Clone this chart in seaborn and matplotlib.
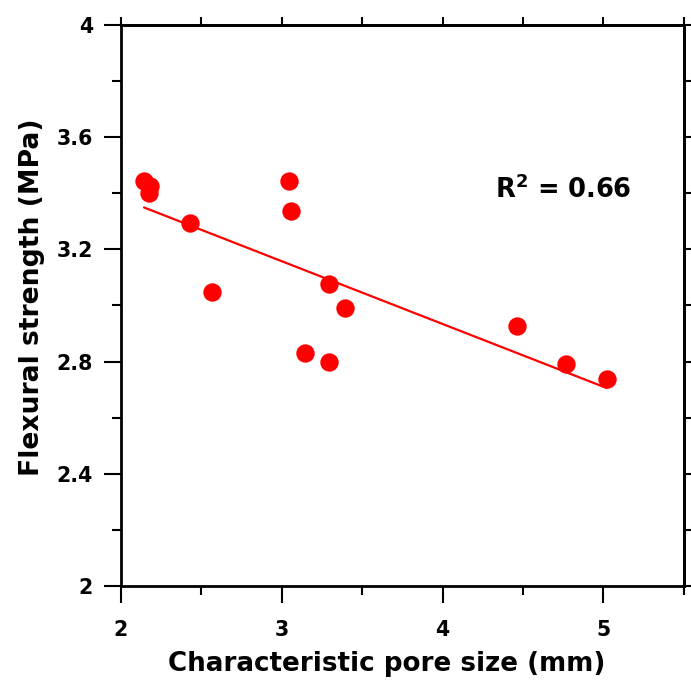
import matplotlib
matplotlib.use("Agg")
import matplotlib.pyplot as plt
import seaborn as sns
import numpy as np
import pandas as pd
from matplotlib.ticker import MultipleLocator

pore_size = [2.145, 2.182, 2.178, 2.433, 2.565, 3.043, 3.056, 3.294, 3.393, 3.145, 3.294, 4.460, 4.768, 5.019]
strength = [3.445, 3.426, 3.400, 3.295, 3.047, 3.445, 3.337, 3.077, 2.990, 2.829, 2.798, 2.928, 2.790, 2.738]
r2_text = "R$^2$ = 0.66"
x_label = "Characteristic pore size (mm)"
y_label = "Flexural strength (MPa)"
x_ticks = [2, 3, 4, 5]
y_ticks = [2, 2.4, 2.8, 3.2, 3.6, 4]
y_tick_labels = ["2", "2.4", "2.8", "3.2", "3.6", "4"]

sns.set_style("white")
plt.rcParams["font.family"] = ["DejaVu Sans"]
plt.rcParams["font.weight"] = "bold"
plt.rcParams["text.color"] = "black"
plt.rcParams["axes.labelcolor"] = "black"
plt.rcParams["xtick.color"] = "black"
plt.rcParams["ytick.color"] = "black"
plt.rcParams["mathtext.fontset"] = "custom"
plt.rcParams["mathtext.rm"] = "DejaVu Sans:bold"
plt.rcParams["mathtext.default"] = "rm"

df = pd.DataFrame({"pore": pore_size, "strength": strength})

fig = plt.figure(figsize=(6.91, 6.86), dpi=100)
ax = fig.add_axes([0.1747, 0.1458, 0.8151, 0.8178])

sns.regplot(data=df, x="pore", y="strength", ax=ax, ci=None, color="#ff0000",
            scatter_kws=dict(s=175, linewidths=0, alpha=1),
            line_kws=dict(lw=1.6, color="#ff0000"))

ax.set_xlim(2, 5.5)
ax.set_ylim(2, 4)
ax.set_xticks(x_ticks)
ax.set_xticklabels([str(t) for t in x_ticks], fontsize=14.8, fontweight="bold", color="black")
ax.set_yticks(y_ticks)
ax.set_yticklabels(y_tick_labels, fontsize=14.8, fontweight="bold", color="black")
ax.xaxis.set_minor_locator(MultipleLocator(0.5))
ax.yaxis.set_minor_locator(MultipleLocator(0.2))

for s in ax.spines.values():
    s.set_visible(True)
    s.set_color("black")
    s.set_linewidth(2.0)

ax.tick_params(which="major", direction="out", length=12.5, width=1.5, color="black",
               bottom=True, left=True, top=False, right=False)
ax.tick_params(axis="x", which="major", pad=12)
ax.tick_params(axis="y", which="major", pad=7.5)
ax.tick_params(which="minor", direction="out", length=6.5, width=1.5, color="black",
               bottom=True, left=True, top=False, right=False)

sec_x = ax.secondary_xaxis("top")
sec_x.set_xticks(np.arange(2, 5.51, 0.5))
sec_x.tick_params(direction="out", length=6, width=1.5, labeltop=False, color="black")
sec_x.spines["top"].set_linewidth(2.0)
sec_x.spines["top"].set_color("black")
sec_y = ax.secondary_yaxis("right")
sec_y.set_yticks(np.arange(2, 4.01, 0.2))
sec_y.tick_params(direction="out", length=5, width=1.5, labelright=False, color="black")
sec_y.spines["right"].set_linewidth(2.0)
sec_y.spines["right"].set_color("black")

ax.set_xlabel(x_label, fontsize=18.8, fontweight="bold", color="black")
ax.set_ylabel(y_label, fontsize=19.2, fontweight="bold", color="black")
ax.xaxis.set_label_coords(0.472, -0.116)
ax.yaxis.set_label_coords(-0.135, 0.515)

ax.text(4.747, 3.412, r2_text, fontsize=18.5, fontweight="bold", ha="center", va="center", color="black")

fig.savefig("out.png", dpi=100)
